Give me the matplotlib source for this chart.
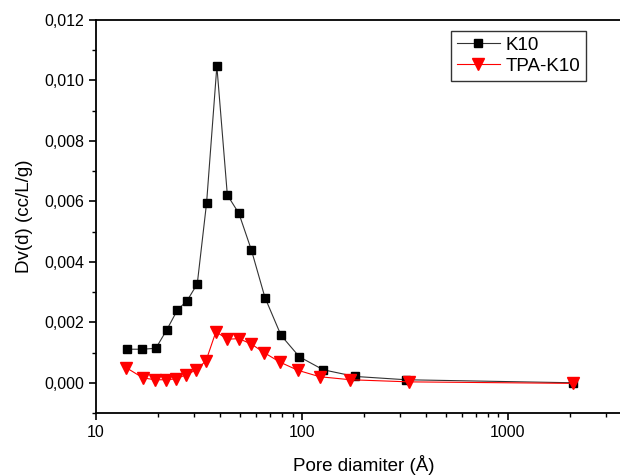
import numpy as np
import matplotlib
matplotlib.use("Agg")
import matplotlib.pyplot as plt
from matplotlib.ticker import FuncFormatter, FixedLocator, LogLocator, MultipleLocator, NullFormatter

plt.rcParams['font.family'] = ['Liberation Sans', 'DejaVu Sans']

# K10 pore size distribution
k10_d = [14.2, 16.8, 19.5, 22.0, 24.8, 27.7, 31.0, 34.4, 38.6, 43.4, 49.4,
         56.8, 66.1, 79.1, 97.1, 126.8, 180.7, 320, 2075]
k10_dv = [0.00111, 0.00111, 0.00114, 0.00174, 0.00240, 0.00272, 0.00327,
          0.00594, 0.01047, 0.00621, 0.00560, 0.00439, 0.00282, 0.00157,
          0.00086, 0.00043, 0.00021, 0.00010, 0.00000]

# TPA-K10 pore size distribution
tpa_d = [14.0, 16.9, 19.4, 21.9, 24.5, 27.2, 30.6, 34.2, 38.2, 43.4, 49.4,
         56.8, 65.4, 78.3, 95.8, 122, 172, 332, 2075]
tpa_dv = [0.00050, 0.00016, 0.00010, 0.00010, 0.00013, 0.00026, 0.00042,
          0.00073, 0.00169, 0.00144, 0.00146, 0.00128, 0.00100, 0.00068,
          0.00041, 0.00020, 0.00010, 0.00003, -0.00002]

fig = plt.figure(figsize=(6.2, 4.75), dpi=100)
ax = fig.add_axes([0.155, 0.1305, 0.864, 0.8275])

ax.plot(k10_d, k10_dv, color='#333333', lw=0.8, marker='s', ms=6,
        mfc='black', mec='black', label='K10')
ax.plot(tpa_d, tpa_dv, color='red', lw=0.8, marker='v', ms=8,
        mfc='red', mec='red', label='TPA-K10')

ax.set_xscale('log')
ax.set_xlim(10, 4000)
ax.set_ylim(-0.001, 0.012)

ax.xaxis.set_major_locator(FixedLocator([10, 100, 1000]))
ax.xaxis.set_major_formatter(FuncFormatter(lambda v, p: f"{int(round(v))}"))
ax.xaxis.set_minor_locator(LogLocator(base=10, subs=np.arange(2, 10)))
ax.xaxis.set_minor_formatter(NullFormatter())

ax.yaxis.set_major_locator(MultipleLocator(0.002))
ax.yaxis.set_minor_locator(MultipleLocator(0.001))
ax.yaxis.set_major_formatter(FuncFormatter(lambda v, p: f"{v:.3f}".replace('.', ',')))

ax.tick_params(which='major', direction='out', length=5, width=1.2, labelsize=11.5)
ax.tick_params(which='minor', direction='out', length=3, width=1.0)

for s in ax.spines.values():
    s.set_linewidth(1.3)

ax.set_xlabel('Pore diamiter (Å)', fontsize=13.5, labelpad=11)
ax.set_ylabel('Dv(d) (cc/L/g)', fontsize=13.5, labelpad=8)

leg = ax.legend(loc='upper left', bbox_to_anchor=(0.645, 0.995), fontsize=13.5,
                frameon=True, fancybox=False, edgecolor='black', numpoints=1,
                handlelength=2.3, borderpad=0.3, labelspacing=0.2, handletextpad=0.3)
leg.get_frame().set_linewidth(1.0)

fig.savefig('out.png', dpi=100, facecolor='white')
